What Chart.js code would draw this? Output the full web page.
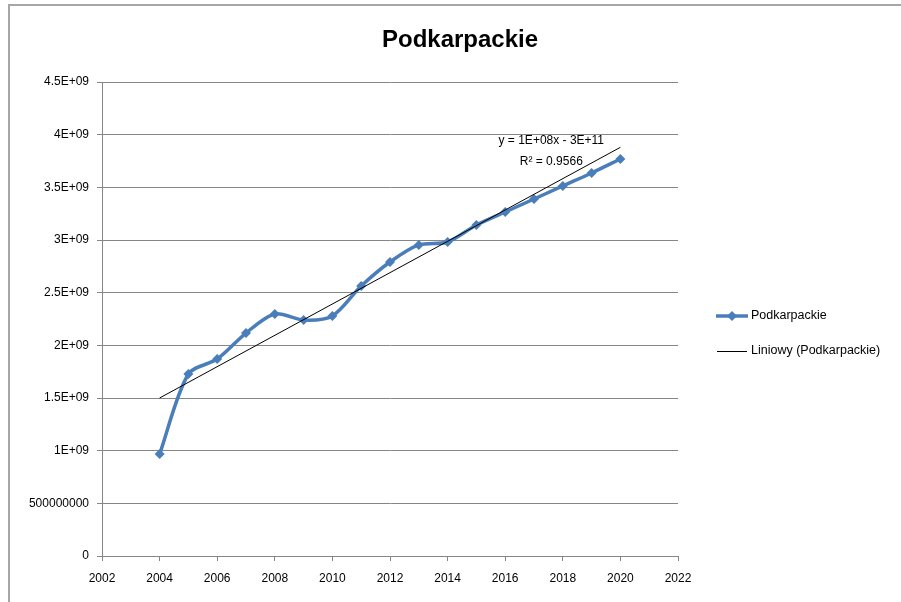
<!DOCTYPE html>
<html>
<head>
<meta charset="utf-8">
<script src="https://cdn.jsdelivr.net/npm/chart.js@4"></script>
<style>
  html, body { margin: 0; padding: 0; background: #fff; }
  #wrap { position: relative; width: 901px; height: 602px; }
  #frame { position: absolute; left: 8px; top: 4px; right: 0; bottom: 0;
           border-left: 2px solid #a6a6a6; border-top: 2px solid #a6a6a6; pointer-events: none; }
  canvas { position: absolute; left: 0; top: 0; }
</style>
</head>
<body>
<div id="wrap">
  <canvas id="chart" width="901" height="602"></canvas>
  <div id="frame"></div>
</div>
<script>
// values
const years = [2004, 2005, 2006, 2007, 2008, 2009, 2010, 2011, 2012, 2013, 2014, 2015, 2016, 2017, 2018, 2019, 2020];
const values = [0.968e9, 1.728e9, 1.870e9, 2.117e9, 2.298e9, 2.240e9, 2.279e9, 2.563e9, 2.791e9, 2.953e9, 2.981e9, 3.142e9, 3.266e9, 3.389e9, 3.513e9, 3.636e9, 3.769e9];
const trendYears = [2004, 2020];
const trendValues = [1.50e9, 3.88e9];
const yTickLabels = ['0', '500000000', '1E+09', '1.5E+09', '2E+09', '2.5E+09', '3E+09', '3.5E+09', '4E+09', '4.5E+09'];
const title = 'Podkarpackie';
const seriesName = 'Podkarpackie';
const trendName = 'Liniowy (Podkarpackie)';
const equation = ['y = 1E+08x - 3E+11', 'R² = 0.9566'];

const blue = '#4a7ebb';
const gridGray = '#868686';
const font = 'Liberation Sans, Arial, sans-serif';

const extras = {
    id: 'extras',
    afterDraw(chart) {
        const ctx = chart.ctx;
        ctx.save();
        // title
        ctx.fillStyle = '#000';
        ctx.font = 'bold 24px ' + font;
        ctx.textAlign = 'center';
        ctx.textBaseline = 'middle';
        ctx.fillText(title, 460, 40);

        // trendline equation
        const xs = chart.scales.x;
        const ys = chart.scales.y;
        ctx.font = '12px ' + font;
        const ex = xs.getPixelForValue(2017.6);
        ctx.fillText(equation[0], ex, ys.getPixelForValue(3.94e9));
        ctx.fillText(equation[1], ex, ys.getPixelForValue(3.74e9));

        // legend
        ctx.textAlign = 'left';
        ctx.font = '12.5px ' + font;
        ctx.strokeStyle = blue;
        ctx.lineWidth = 3.5;
        ctx.beginPath();
        ctx.moveTo(716, 316);
        ctx.lineTo(748, 316);
        ctx.stroke();
        ctx.fillStyle = blue;
        ctx.beginPath();
        ctx.moveTo(732, 311);
        ctx.lineTo(737, 316);
        ctx.lineTo(732, 321);
        ctx.lineTo(727, 316);
        ctx.closePath();
        ctx.fill();
        ctx.fillStyle = '#000';
        ctx.fillText(seriesName, 751, 316);

        ctx.strokeStyle = '#000';
        ctx.lineWidth = 1;
        ctx.beginPath();
        ctx.moveTo(717, 351.5);
        ctx.lineTo(747, 351.5);
        ctx.stroke();
        ctx.fillText(trendName, 751, 351);
        ctx.restore();
    }
};

const ctx = document.getElementById('chart').getContext('2d');
new Chart(ctx, {
    type: 'line',
    data: {
        datasets: [{
            label: seriesName,
            data: years.map((y, i) => ({ x: y, y: values[i] })),
            borderColor: blue,
            backgroundColor: blue,
            borderWidth: 3.5,
            tension: 0.3,
            pointStyle: 'rectRot',
            pointRadius: 5,
            pointBorderWidth: 0,
            fill: false,
            order: 1
        }, {
            label: trendName,
            data: trendYears.map((y, i) => ({ x: y, y: trendValues[i] })),
            borderColor: '#000',
            borderWidth: 1,
            pointRadius: 0,
            tension: 0,
            fill: false,
            order: 0
        }]
    },
    options: {
        responsive: false,
        animation: false,
        layout: { padding: { left: 10, right: 223, top: 82, bottom: 10 } },
        plugins: {
            legend: { display: false },
            title: { display: false },
            tooltip: { enabled: false }
        },
        scales: {
            x: {
                type: 'linear',
                min: 2002,
                max: 2022,
                afterFit(scale) { scale.height = 36; },
                ticks: {
                    stepSize: 2,
                    color: '#000',
                    font: { family: font, size: 12 },
                    padding: 10,
                    maxRotation: 0,
                    callback: v => String(v)
                },
                grid: { display: true, drawOnChartArea: false, drawTicks: true, tickLength: 5, color: gridGray },
                border: { color: gridGray, width: 1 }
            },
            y: {
                min: 0,
                max: 4.5e9,
                afterFit(scale) { scale.width = 92; },
                afterBuildTicks(scale) {
                    scale.ticks = yTickLabels.map((t, i) => ({ value: i * 0.5e9 }));
                },
                ticks: {
                    color: '#000',
                    font: { family: font, size: 12 },
                    padding: 8,
                    callback: (v, i) => yTickLabels[i]
                },
                grid: { color: gridGray, lineWidth: 1, tickLength: 5 },
                border: { color: gridGray, width: 1 }
            }
        }
    },
    plugins: [extras]
});
</script>
</body>
</html>
